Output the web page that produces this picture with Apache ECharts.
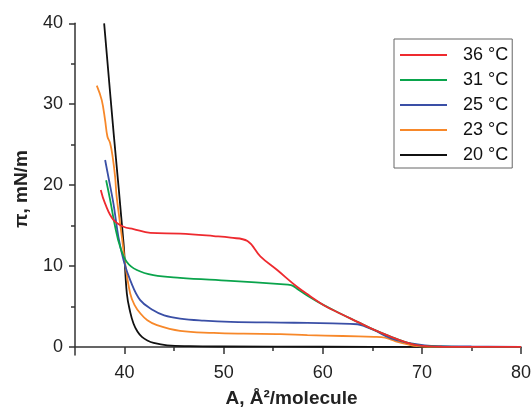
<!DOCTYPE html>
<html>
<head>
<meta charset="utf-8">
<script src="https://cdn.jsdelivr.net/npm/echarts@6/dist/echarts.min.js"></script>
<style>html,body{margin:0;padding:0;background:#fff}#c{width:532px;height:408px}</style>
</head>
<body>
<div id="c"></div>
<script>
// ---- data ----
var xMajorTicks = [40, 50, 60, 70, 80];
var xMinorTicks = [45, 55, 65, 75];
var yMajorTicks = [0, 10, 20, 30, 40];
var yMinorTicks = [5, 15, 25, 35];

var legendNames = ['36 °C', '31 °C', '25 °C', '23 °C', '20 °C'];

var a20 = [37.94, 38.9, 39.9, 40.23, 40.57, 40.9, 41.3, 41.75, 42.3, 42.93, 44.3, 46.6, 50, 60, 70, 80];
var p20 = [40, 26.4, 12.8, 6.6, 4.3, 2.9, 1.9, 1.24, 0.8, 0.5, 0.2, 0.09, 0.05, 0.02, 0, 0];

var a23 = [37.2, 37.7, 38.04, 38.27, 38.54, 38.8, 39.05, 39.2, 39.73, 40.06, 40.57, 41.0, 41.6, 42.3, 43.27, 45.6, 49.0, 52, 55.75, 58.45, 62, 65.2, 65.9, 66.7, 67.55, 68.6, 69.6, 71, 75, 80];
var p23 = [32.3, 30.5, 28, 26, 25.2, 23.5, 21, 18.6, 13.6, 10.3, 6.6, 5.2, 4.13, 3.3, 2.69, 1.98, 1.73, 1.63, 1.57, 1.45, 1.35, 1.24, 1.2, 1.0, 0.62, 0.3, 0.09, 0.02, 0, 0];

var a25 = [38.04, 38.37, 38.88, 39.38, 39.9, 40.57, 41.58, 42.9, 44.0, 45.6, 48, 50.7, 55.75, 58.45, 61, 63.5, 64.3, 65.2, 66.9, 68.6, 70.3, 72, 75, 80];
var p25 = [23.1, 21.0, 17.7, 13.6, 10.7, 8.25, 5.78, 4.54, 3.9, 3.5, 3.25, 3.1, 3.0, 2.97, 2.9, 2.8, 2.5, 2.07, 1.04, 0.5, 0.2, 0.1, 0.05, 0];

var a31 = [38.14, 38.54, 39.05, 39.55, 40.23, 41.24, 42.9, 45.6, 50.7, 55.75, 56.8, 57.4, 58.5, 60.1, 61.8, 63.5, 65.2, 66.9, 68.2, 69.6, 71, 75, 80];
var p31 = [20.6, 18.2, 14.85, 12.4, 10.5, 9.5, 8.87, 8.54, 8.17, 7.76, 7.64, 7.2, 6.3, 5.16, 4.1, 3.1, 2.1, 1.24, 0.65, 0.2, 0.05, 0, 0];

var a36 = [37.6, 38.04, 38.88, 39.9, 40.9, 42.6, 45.6, 49.0, 50.7, 52.4, 53.7, 55.4, 57.4, 58.7, 60.1, 61.8, 63.5, 65.2, 66.9, 68.2, 69.6, 72, 76, 80];
var p36 = [19.4, 17.7, 15.7, 14.85, 14.57, 14.1, 14.0, 13.7, 13.5, 13.08, 11.2, 9.5, 7.43, 6.3, 5.16, 4.1, 3.1, 2.1, 1.24, 0.65, 0.2, 0.02, 0, 0];

function pairs(xs, ys) { return xs.map(function (x, i) { return [x, ys[i]]; }); }

var FONT = 'Liberation Sans, Arial, sans-serif';
var chart = echarts.init(document.getElementById('c'), null, { renderer: 'canvas' });

function mkSeries(name, xs, ys, color) {
  return {
    name: name, type: 'line', data: pairs(xs, ys),
    symbol: 'none', smooth: 0.4,
    lineStyle: { color: color, width: 1.8 }, itemStyle: { color: color },
    xAxisIndex: 0, yAxisIndex: 0, animation: false
  };
}

var axisLineStyle = { color: '#333', width: 1.5 };

chart.setOption({
  animation: false,
  backgroundColor: '#fff',
  grid: { left: 75, right: 11, top: 23.3, bottom: 53, containLabel: false, outerBoundsMode: 'none' },
  legend: {
    data: legendNames,
    orient: 'vertical',
    left: 394, top: 39,
    padding: [7, 4, 4, 6],
    icon: 'rect',
    itemWidth: 47, itemHeight: 2, itemGap: 7,
    borderColor: '#666', borderWidth: 1,
    textStyle: { fontFamily: FONT, fontSize: 18, color: '#111', lineHeight: 18, padding: [0, 0, 0, 11] }
  },
  xAxis: [{
    type: 'value', min: 35, max: 80, position: 'bottom',
    name: 'A, Å²/molecule', nameLocation: 'middle', nameGap: 34,
    nameTextStyle: { fontFamily: FONT, fontSize: 19, fontWeight: 'bold', color: '#222', padding: [0, 13, 0, 0] },
    axisLine: { show: true, lineStyle: axisLineStyle },
    axisTick: { show: true, inside: false, length: 7, lineStyle: axisLineStyle, customValues: xMajorTicks },
    axisLabel: { fontFamily: FONT, fontSize: 18, color: '#222', margin: 9, customValues: xMajorTicks },
    splitLine: { show: false }
  }, {
    type: 'value', min: 35, max: 80, position: 'bottom',
    axisLine: { show: false },
    axisTick: { show: true, inside: false, length: 4, lineStyle: axisLineStyle, customValues: xMinorTicks },
    axisLabel: { show: false },
    splitLine: { show: false }
  }],
  yAxis: [{
    type: 'value', min: -1, max: 40, position: 'left',
    name: 'π, mN/m', nameLocation: 'middle', nameGap: 44, nameRotate: 90,
    nameTextStyle: { fontFamily: FONT, fontSize: 19, fontWeight: 'bold', color: '#222' },
    axisLine: { show: true, lineStyle: axisLineStyle },
    axisTick: { show: true, inside: false, length: 6, lineStyle: axisLineStyle, customValues: yMajorTicks },
    axisLabel: { fontFamily: FONT, fontSize: 18, color: '#222', margin: 12, customValues: yMajorTicks },
    splitLine: { show: false }
  }, {
    type: 'value', min: -1, max: 40, position: 'left',
    axisLine: { show: false },
    axisTick: { show: true, inside: false, length: 4, lineStyle: axisLineStyle, customValues: yMinorTicks },
    axisLabel: { show: false },
    splitLine: { show: false }
  }],
  series: [
    mkSeries('20 °C', a20, p20, '#111111'),
    mkSeries('23 °C', a23, p23, '#f7882a'),
    mkSeries('25 °C', a25, p25, '#3a4fa6'),
    mkSeries('31 °C', a31, p31, '#0aa44c'),
    mkSeries('36 °C', a36, p36, '#ee2a2f')
  ]
});
</script>
</body>
</html>
